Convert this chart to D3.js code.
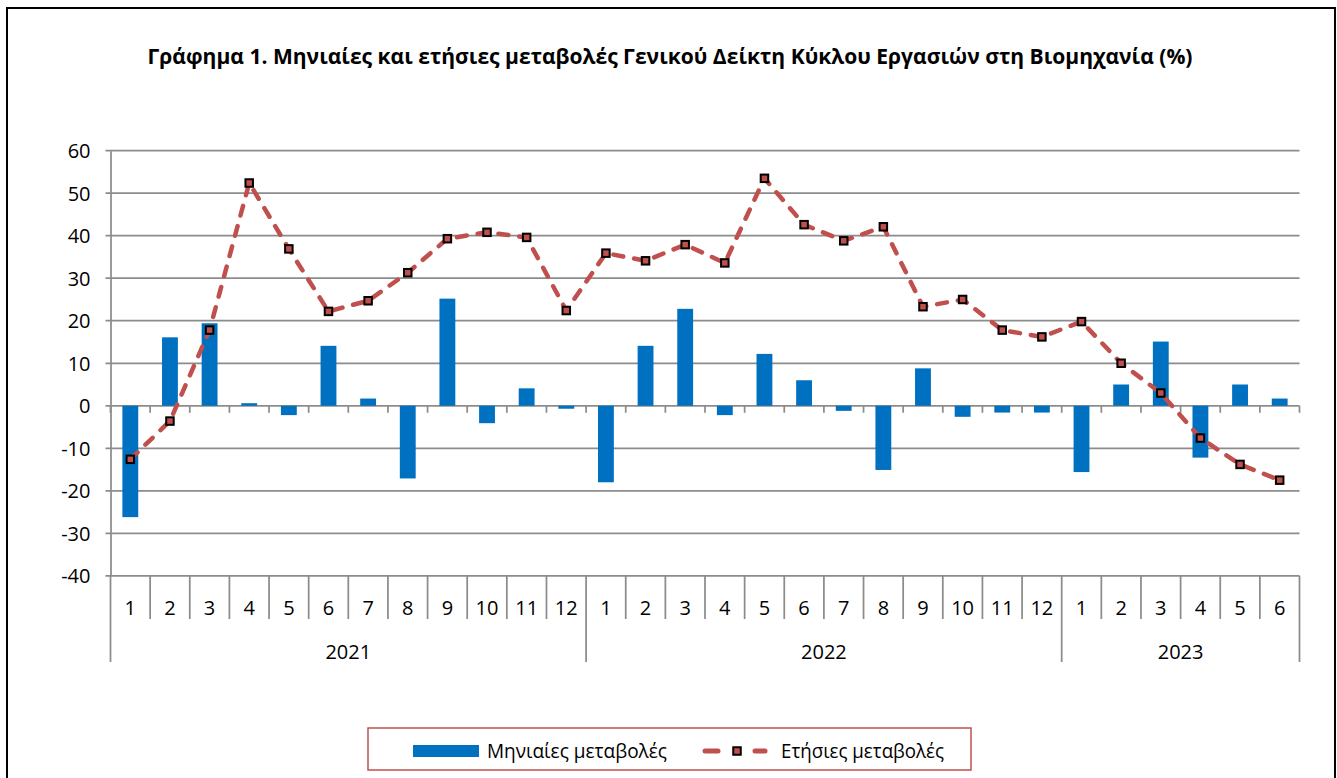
<!DOCTYPE html>
<html><head><meta charset="utf-8">
<script src="https://cdn.jsdelivr.net/npm/d3@7"></script>
<style>
html,body{margin:0;padding:0;background:#fff;}
svg{display:block;}
text{font-family:"Open Sans","Noto Sans",sans-serif;fill:#000;}
</style></head>
<body>
<svg id="chart" width="1337" height="778"></svg>
<script>
const monthLabels = ["1","2","3","4","5","6","7","8","9","10","11","12",
                     "1","2","3","4","5","6","7","8","9","10","11","12",
                     "1","2","3","4","5","6"];
const years = ["2021","2022","2023"];
const yearCounts = [12,12,6];
const monthly = [-26.2,16.1,19.4,0.6,-2.2,14.1,1.7,-17.1,25.2,-4.1,4.1,-0.7,
                 -18.0,14.1,22.8,-2.2,12.2,6.0,-1.2,-15.1,8.8,-2.6,-1.6,-1.6,
                 -15.6,5.0,15.1,-12.2,5.0,1.7];
const annual = [-12.6,-3.6,17.8,52.4,36.9,22.2,24.7,31.3,39.3,40.8,39.6,22.4,
                35.9,34.1,37.9,33.6,53.5,42.6,38.8,42.1,23.3,25.0,17.8,16.2,
                19.8,10.0,3.0,-7.6,-13.8,-17.5];
const yTicks = [-40,-30,-20,-10,0,10,20,30,40,50,60];
const titleText = "Γράφημα 1. Μηνιαίες και ετήσιες μεταβολές  Γενικού Δείκτη Κύκλου Εργασιών στη Βιομηχανία (%)";
const seriesNames = ["Μηνιαίες μεταβολές","Ετήσιες μεταβολές"];

(function(){
const BAR = "#0070C0", LINE = "#C0504D", GRID = "#8c8c8c";
const svg = d3.select("#chart");
const pLeft = 110.5, pRight = 1299.5, pTop = 150.7, pBottom = 575.8;
const FS = 20;

// frame
svg.append("rect").attr("x",7).attr("y",8).attr("width",1328).attr("height",790)
  .attr("fill","#fff").attr("stroke","#000").attr("stroke-width",2);

// title
svg.append("text").attr("x",670).attr("y",64).attr("text-anchor","middle")
  .attr("font-size",21).attr("font-weight","bold")
  .attr("textLength",1045).attr("lengthAdjust","spacingAndGlyphs")
  .text(titleText);

const idx = d3.range(monthLabels.length);
const x = d3.scaleBand().domain(idx).range([pLeft,pRight]).padding(0);
const y = d3.scaleLinear().domain([-40,60]).range([pBottom,pTop]);
const bw = x.bandwidth();

// gridlines
svg.append("g").selectAll("line").data(yTicks).join("line")
  .attr("x1",pLeft-5).attr("x2",pRight).attr("y1",d=>y(d)).attr("y2",d=>y(d))
  .attr("stroke",GRID).attr("stroke-width",1.75);

// y axis
const yAxis = d3.axisLeft(y).tickValues(yTicks).tickSize(0).tickPadding(20)
  .tickFormat(d => String(d));
const gy = svg.append("g").attr("transform",`translate(${pLeft},0)`).call(yAxis);
gy.select(".domain").attr("stroke",GRID).attr("stroke-width",1.75);
gy.selectAll("text").attr("font-size",FS).attr("font-family","Open Sans").attr("fill","#000").attr("dy","0.34em");

// zero line ticks
const bounds = d3.range(monthLabels.length+1).map(i => pLeft + i*bw);
svg.append("g").selectAll("line").data(bounds).join("line")
  .attr("x1",d=>d).attr("x2",d=>d).attr("y1",y(0)).attr("y2",y(0)+7)
  .attr("stroke",GRID).attr("stroke-width",1.75);

// bottom category dividers
const yearStarts = [0];
yearCounts.forEach((c,i)=>yearStarts.push(yearStarts[i]+c));
svg.append("g").selectAll("line").data(bounds).join("line")
  .attr("x1",d=>d).attr("x2",d=>d).attr("y1",pBottom)
  .attr("y2",(d,i)=> yearStarts.includes(i) ? 662 : 619)
  .attr("stroke",GRID).attr("stroke-width",1.75);

// month labels
svg.append("g").selectAll("text").data(monthLabels).join("text")
  .attr("x",(d,i)=>x(i)+bw/2).attr("y",608).attr("dy","0.35em")
  .attr("text-anchor","middle").attr("font-size",FS).text(d=>d);

// year labels
svg.append("g").selectAll("text").data(years).join("text")
  .attr("x",(d,i)=> pLeft + (yearStarts[i]+yearCounts[i]/2)*bw).attr("y",652).attr("dy","0.35em")
  .attr("text-anchor","middle").attr("font-size",FS).text(d=>d);

// bars
const barW = bw*0.40;
svg.append("g").selectAll("rect").data(monthly).join("rect")
  .attr("x",(d,i)=>x(i)+bw/2-barW/2).attr("width",barW)
  .attr("y",d=>y(Math.max(0,d))).attr("height",d=>Math.abs(y(d)-y(0)))
  .attr("fill",BAR);

// line
const line = d3.line().x((d,i)=>x(i)+bw/2).y(d=>y(d));
svg.append("path").datum(annual).attr("d",line).attr("fill","none")
  .attr("stroke",LINE).attr("stroke-width",4.5).attr("stroke-dasharray","10 11")
  .attr("stroke-linecap","round").attr("stroke-linejoin","round");
svg.append("g").selectAll("rect").data(annual).join("rect")
  .attr("x",(d,i)=>x(i)+bw/2-3.75).attr("y",d=>y(d)-3.75)
  .attr("width",7.5).attr("height",7.5)
  .attr("fill",LINE).attr("stroke","#000").attr("stroke-width",2);

// legend
const lg = svg.append("g");
lg.append("rect").attr("x",368).attr("y",728).attr("width",603).attr("height",42)
  .attr("fill","#fff").attr("stroke",LINE).attr("stroke-width",1.5);
lg.append("rect").attr("x",413).attr("y",745).attr("width",66).attr("height",12).attr("fill",BAR);
lg.append("text").attr("x",487).attr("y",751).attr("dy","0.35em").attr("font-size",20.5)
  .attr("textLength",180).attr("lengthAdjust","spacingAndGlyphs").text(seriesNames[0]);
[[705,718],[755,765]].forEach(s=>{
  lg.append("line").attr("x1",s[0]).attr("x2",s[1]).attr("y1",751).attr("y2",751)
    .attr("stroke",LINE).attr("stroke-width",5).attr("stroke-linecap","round");
});
lg.append("rect").attr("x",737-3.75).attr("y",751-3.75).attr("width",7.5).attr("height",7.5)
  .attr("fill",LINE).attr("stroke","#000").attr("stroke-width",2);
lg.append("text").attr("x",781).attr("y",751).attr("dy","0.35em").attr("font-size",20.5)
  .attr("textLength",163).attr("lengthAdjust","spacingAndGlyphs").text(seriesNames[1]);
})();
</script>
</body></html>
